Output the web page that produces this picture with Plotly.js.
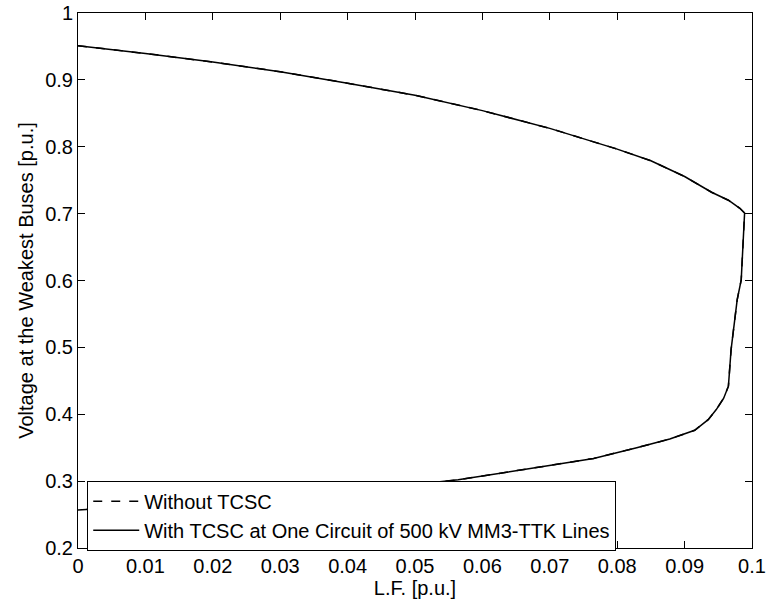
<!DOCTYPE html>
<html>
<head>
<meta charset="utf-8">
<script src="https://cdn.plot.ly/plotly-3.0.1.min.js"></script>
<style>html,body{margin:0;padding:0;background:#fff;}#chart{width:767px;height:608px;}</style>
</head>
<body>
<div id="chart"></div>
<script>
// Loading factor (x) and weakest-bus voltage (y)
var lfWith = [0, 0.01, 0.02, 0.03, 0.04, 0.05, 0.06, 0.07, 0.08, 0.085, 0.09, 0.094, 0.0965, 0.0982, 0.0989,
              0.0986, 0.0984, 0.0978, 0.0973, 0.0969, 0.0965, 0.0958, 0.0947, 0.0935, 0.0915, 0.0878, 0.0829, 0.0765, 0.0697, 0.0564, 0.04, 0.02, 0];
var vWith  = [0.951, 0.9395, 0.9267, 0.9122, 0.895, 0.877, 0.854, 0.8275, 0.7965, 0.779, 0.7555, 0.732, 0.72, 0.708, 0.701,
              0.650, 0.601, 0.571, 0.531, 0.497, 0.442, 0.424, 0.407, 0.392, 0.376, 0.363, 0.350, 0.334, 0.323, 0.302, 0.284, 0.269, 0.257];
// The dashed curve coincides with the solid one in the picture
var lfWithout = lfWith.slice();
var vWithout = vWith.slice();

var xTickVals = [0, 0.01, 0.02, 0.03, 0.04, 0.05, 0.06, 0.07, 0.08, 0.09, 0.1];
var xTickText = ["0", "0.01", "0.02", "0.03", "0.04", "0.05", "0.06", "0.07", "0.08", "0.09", "0.1"];
var yTickVals = [0.2, 0.3, 0.4, 0.5, 0.6, 0.7, 0.8, 0.9, 1];
var yTickText = ["0.2", "0.3", "0.4", "0.5", "0.6", "0.7", "0.8", "0.9", "1"];

var seriesNames = ["Without TCSC", "With TCSC at One Circuit of 500 kV MM3-TTK Lines"];

var FONT = "Liberation Sans, Arial, sans-serif";
var FS = 20;

var traces = [
  {x: lfWithout, y: vWithout, mode: "lines", name: seriesNames[0],
   line: {color: "#000", width: 1.5, dash: "dash"}},
  {x: lfWith, y: vWith, mode: "lines", name: seriesNames[1],
   line: {color: "#000", width: 1.5}}
];

var axisCommon = {
  showline: true, linecolor: "#000", linewidth: 1, mirror: "ticks",
  ticks: "inside", ticklen: 7, tickwidth: 1, tickcolor: "#000",
  showgrid: false, zeroline: false, tickmode: "array",
  ticklabeloverflow: "allow",
  tickfont: {family: FONT, size: FS, color: "#000"}
};

var layout = {
  width: 767, height: 608,
  margin: {l: 78, r: 15, t: 13, b: 60, pad: 0},
  paper_bgcolor: "#fff", plot_bgcolor: "#fff",
  font: {family: FONT, size: FS, color: "#000"},
  xaxis: Object.assign({}, axisCommon, {
    range: [0, 0.1], tickvals: xTickVals, ticktext: xTickText,
    title: {text: "L.F. [p.u.]", font: {family: FONT, size: FS, color: "#000"}, standoff: 4}
  }),
  yaxis: Object.assign({}, axisCommon, {
    range: [0.2, 1], tickvals: yTickVals, ticktext: yTickText,
    title: {text: "Voltage at the Weakest Buses [p.u.]", font: {family: FONT, size: FS, color: "#000"}, standoff: 6}
  }),
  showlegend: true,
  legend: {
    x: 0.0137, y: 0.1258, xanchor: "left", yanchor: "top",
    bgcolor: "#fff", bordercolor: "#000", borderwidth: 1,
    font: {family: FONT, size: FS, color: "#000"},
    tracegroupgap: 0, itemwidth: 46
  }
};

Plotly.newPlot("chart", traces, layout, {displayModeBar: false, staticPlot: true});
</script>
</body>
</html>
